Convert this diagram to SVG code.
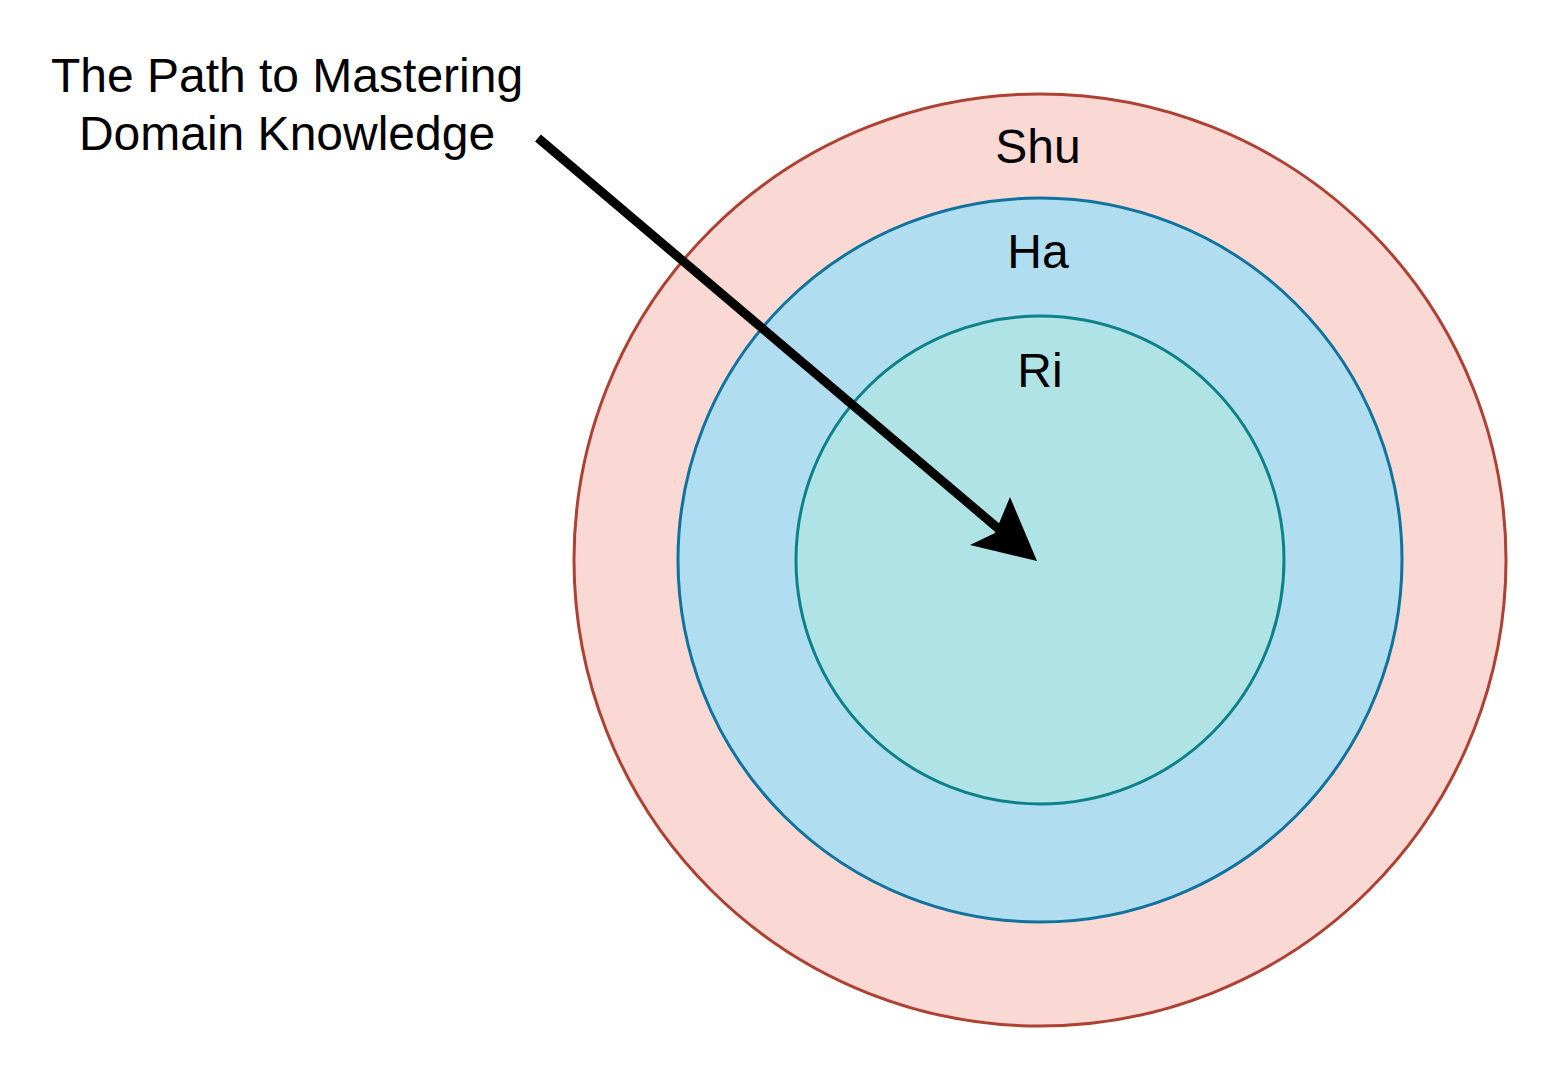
<svg xmlns="http://www.w3.org/2000/svg" width="1548" height="1072" viewBox="0 0 1548 1072">
<style>
text { font-family: "Liberation Sans", Arial, sans-serif; font-size: 48px; fill: #000; text-anchor: middle; }
.c { stroke-width: 3; }
</style>
<rect width="1548" height="1072" fill="#fff"/>
<g id="shu">
<circle class="c" cx="1040" cy="560" r="466" fill="#fad9d5" stroke="#ae4132"/>
<text x="1038" y="163">Shu</text>
</g>
<g id="ha">
<circle class="c" cx="1040" cy="560" r="362" fill="#b1ddf0" stroke="#10739e"/>
<text x="1038" y="268">Ha</text>
</g>
<g id="ri">
<circle class="c" cx="1040" cy="560" r="244" fill="#b0e3e6" stroke="#0e8088"/>
<text x="1040" y="387">Ri</text>
</g>
<g id="title">
<text x="287" y="92">The Path to Mastering</text>
<text x="287" y="150">Domain Knowledge</text>
</g>
<g id="connectors">
<line x1="538" y1="138" x2="1000" y2="530" stroke="#000" stroke-width="9"/>
<polygon points="1037,561 970,545 995,533 1010,497" fill="#000"/>
</g>
</svg>
